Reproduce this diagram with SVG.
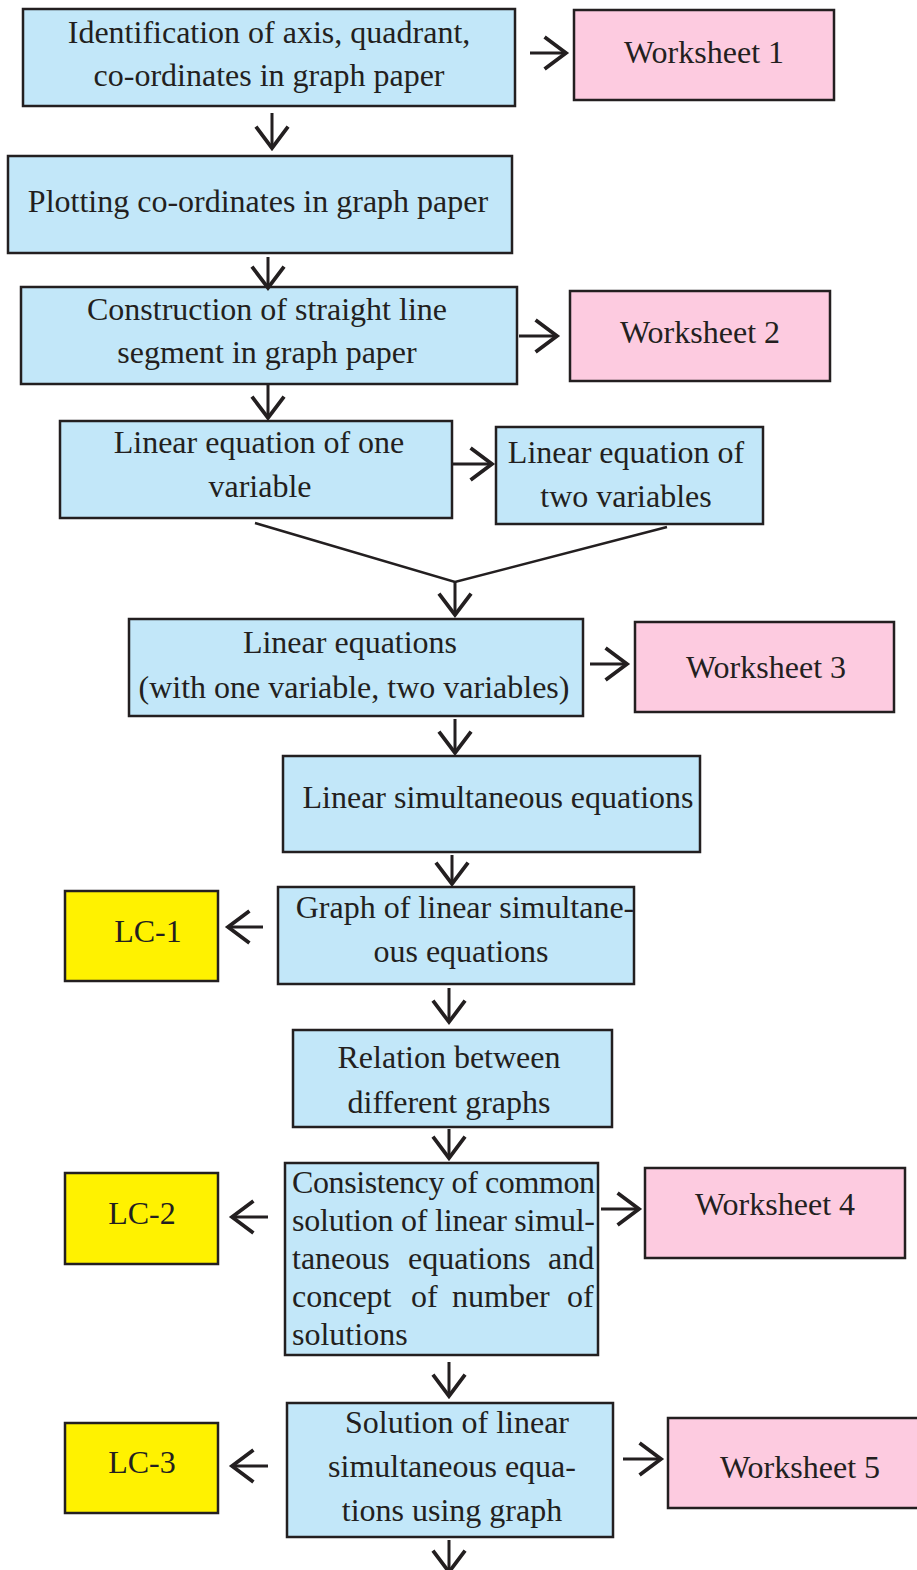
<svg xmlns="http://www.w3.org/2000/svg" width="917" height="1570" viewBox="0 0 917 1570">
<style>
.b{fill:#c2e7f9;stroke:#231f20;stroke-width:2.5}
.w{fill:#fdcbe0;stroke:#231f20;stroke-width:2.5}
.y{fill:#fff200;stroke:#231f20;stroke-width:2.5}
text{font-family:"Liberation Serif","Times New Roman",serif;font-size:32px;fill:#231f20}
.c{text-anchor:middle}
.ln{stroke:#231f20;stroke-width:2.5;fill:none}
.ar{stroke:#231f20;stroke-width:3;fill:none;marker-end:url(#ah)}
</style>
<defs>
<marker id="ah" markerUnits="userSpaceOnUse" markerWidth="30" markerHeight="40" viewBox="-24 -18 28 36" refX="0" refY="0" orient="auto" overflow="visible">
<path d="M-20,-15 L0,0 L-20,15" fill="none" stroke="#231f20" stroke-width="3.5"/>
</marker>
</defs>
<g id="n1"><rect class="b" x="23" y="9" width="492" height="97"/><text class="c" x="269" y="43">Identification of axis, quadrant,</text><text class="c" x="269" y="86">co-ordinates in graph paper</text></g>
<g id="ws1"><rect class="w" x="574" y="10" width="260" height="90"/><text class="c" x="704" y="63">Worksheet 1</text></g>
<g id="n2"><rect class="b" x="8" y="156" width="504" height="97"/><text class="c" x="258" y="212">Plotting co-ordinates in graph paper</text></g>
<g id="n3"><rect class="b" x="21" y="287" width="496" height="97"/><text class="c" x="267" y="320">Construction of straight line</text><text class="c" x="267" y="363">segment in graph paper</text></g>
<g id="ws2"><rect class="w" x="570" y="291" width="260" height="90"/><text class="c" x="700" y="343">Worksheet 2</text></g>
<g id="n4"><rect class="b" x="60" y="421" width="392" height="97"/><text class="c" x="259" y="453">Linear equation of one</text><text class="c" x="260" y="497">variable</text></g>
<g id="n5"><rect class="b" x="496" y="427" width="267" height="97"/><text class="c" x="626" y="463">Linear equation of</text><text class="c" x="626" y="507">two variables</text></g>
<g id="n6"><rect class="b" x="129" y="619" width="454" height="97"/><text class="c" x="350" y="653">Linear equations</text><text class="c" x="354" y="698">(with one variable, two variables)</text></g>
<g id="ws3"><rect class="w" x="635" y="622" width="259" height="90"/><text class="c" x="766" y="678">Worksheet 3</text></g>
<g id="n7"><rect class="b" x="283" y="756" width="417" height="96"/><text class="c" x="498" y="808">Linear simultaneous equations</text></g>
<g id="n8"><rect class="b" x="278" y="887" width="356" height="97"/><text class="c" x="465" y="918">Graph of linear simultane-</text><text class="c" x="461" y="962">ous equations</text></g>
<g id="lc1"><rect class="y" x="65" y="891" width="153" height="90"/><text class="c" x="148" y="942">LC-1</text></g>
<g id="n9"><rect class="b" x="293" y="1030" width="319" height="97"/><text class="c" x="449" y="1068">Relation between</text><text class="c" x="449" y="1113">different graphs</text></g>
<g id="n10"><rect class="b" x="285" y="1163" width="313" height="192"/>
<text x="292" y="1193" textLength="303">Consistency of common</text>
<text x="292" y="1231" textLength="303">solution of linear simul-</text>
<text y="1269"><tspan x="292">taneous</tspan><tspan x="408">equations</tspan><tspan x="548">and</tspan></text>
<text y="1307"><tspan x="292">concept</tspan><tspan x="411">of</tspan><tspan x="452">number</tspan><tspan x="567">of</tspan></text>
<text x="292" y="1345">solutions</text></g>
<g id="lc2"><rect class="y" x="65" y="1173" width="153" height="91"/><text class="c" x="142" y="1224">LC-2</text></g>
<g id="ws4"><rect class="w" x="645" y="1168" width="260" height="90"/><text class="c" x="775" y="1215">Worksheet 4</text></g>
<g id="n11"><rect class="b" x="287" y="1403" width="326" height="134"/><text class="c" x="457" y="1433">Solution of linear</text><text class="c" x="452" y="1477">simultaneous equa-</text><text class="c" x="452" y="1521">tions using graph</text></g>
<g id="lc3"><rect class="y" x="65" y="1423" width="153" height="90"/><text class="c" x="142" y="1473">LC-3</text></g>
<g id="ws5"><rect class="w" x="668" y="1418" width="260" height="90"/><text class="c" x="800" y="1478">Worksheet 5</text></g>
<g id="connectors">
<line class="ar" x1="530" y1="53" x2="566" y2="53"/>
<line class="ar" x1="272" y1="113" x2="272" y2="148"/>
<line class="ar" x1="268" y1="257" x2="268" y2="288"/>
<line class="ar" x1="519" y1="336" x2="557" y2="336"/>
<line class="ar" x1="268" y1="384" x2="268" y2="418"/>
<line class="ar" x1="453" y1="464" x2="492" y2="464"/>
<polyline class="ln" points="255,523 455,582 667,527"/>
<line class="ar" x1="455" y1="582" x2="455" y2="615"/>
<line class="ar" x1="590" y1="664" x2="627" y2="664"/>
<line class="ar" x1="455" y1="719" x2="455" y2="753"/>
<line class="ar" x1="452" y1="855" x2="452" y2="884"/>
<line class="ar" x1="263" y1="927" x2="228" y2="927"/>
<line class="ar" x1="449" y1="988" x2="449" y2="1022"/>
<line class="ar" x1="449" y1="1129" x2="449" y2="1158"/>
<line class="ar" x1="268" y1="1217" x2="232" y2="1217"/>
<line class="ar" x1="601" y1="1209" x2="639" y2="1209"/>
<line class="ar" x1="449" y1="1362" x2="449" y2="1396"/>
<line class="ar" x1="268" y1="1466" x2="232" y2="1466"/>
<line class="ar" x1="623" y1="1459" x2="661" y2="1459"/>
<line class="ar" x1="449" y1="1540" x2="449" y2="1572"/>
</g>
</svg>
